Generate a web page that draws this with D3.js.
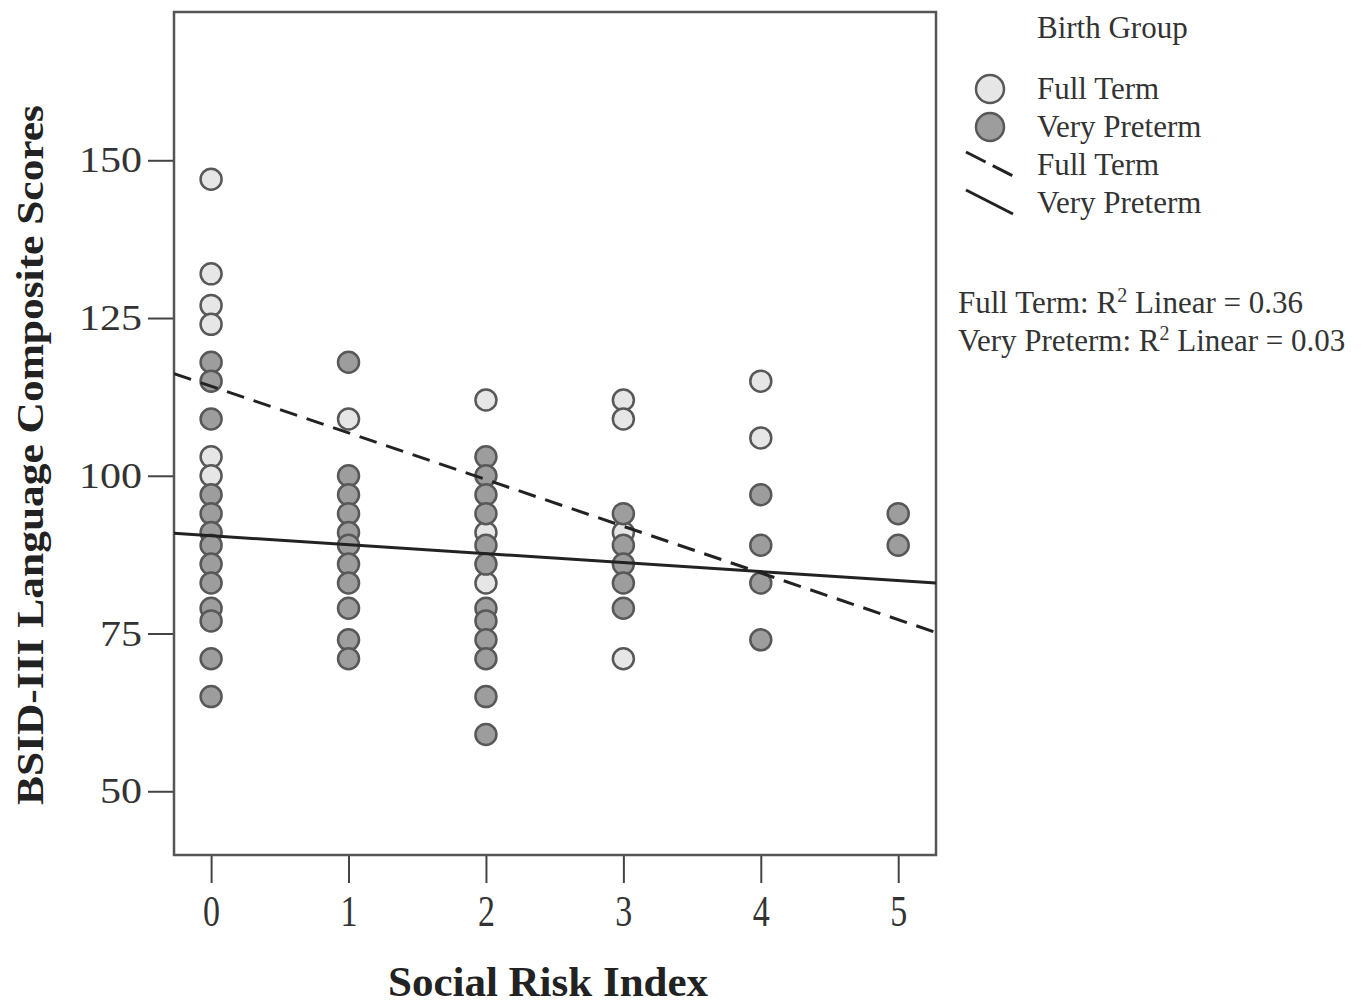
<!DOCTYPE html>
<html>
<head>
<meta charset="utf-8">
<script src="https://cdn.jsdelivr.net/npm/d3@7"></script>
<style>
  html, body { margin: 0; padding: 0; background: #ffffff; overflow: hidden; }
  svg { display: block; }
</style>
</head>
<body>
<script>
// ---------- DATA ----------
const xTickValues = [0, 1, 2, 3, 4, 5];
const yTickValues = [50, 75, 100, 125, 150];

const fullTermRisk  = [0, 0, 0, 0, 0, 0, 1, 2, 2, 2, 3, 3, 3, 3, 4, 4];
const fullTermScore = [147, 132, 127, 124, 103, 100, 109, 112, 91, 83, 112, 109, 91, 71, 115, 106];

const pretermRisk  = [0,0,0,0,0,0,0,0,0,0,0,0,0,
                      1,1,1,1,1,1,1,1,1,1,1,
                      2,2,2,2,2,2,2,2,2,2,2,2,
                      3,3,3,3,3,
                      4,4,4,4,
                      5,5];
const pretermScore = [118,115,109,97,94,91,89,86,83,79,77,71,65,
                      118,100,97,94,91,89,86,83,79,74,71,
                      103,100,97,94,89,86,79,77,74,71,65,59,
                      94,89,86,83,79,
                      97,89,83,74,
                      94,89];

// fitted lines: [intercept, slope]
const fullTermFit = [114.2, -7.4];
const pretermFit  = [90.5, -1.42];

const legendGroups = ["Full Term", "Very Preterm"];
const r2Labels = ["Full Term: ", "Very Preterm: "];
const r2Values = ["0.36", "0.03"];

// ---------- LAYOUT ----------
const W = 1366, H = 1007;
const plot = { left: 174, right: 936, top: 12, bottom: 855 };
const FONT = "'Liberation Serif', 'Times New Roman', serif";
const lightFill = "#e6e6e6", darkFill = "#9d9d9d", ptStroke = "#585858";

const svg = d3.select("body").append("svg")
  .attr("width", W).attr("height", H)
  .style("font-family", FONT);

const x = d3.scaleLinear().domain([-0.27, 5.275]).range([plot.left, plot.right]);
const y = d3.scaleLinear().domain([39.9, 173.5]).range([plot.bottom, plot.top]);

// clip
svg.append("defs").append("clipPath").attr("id", "clip")
  .append("rect").attr("x", plot.left).attr("y", plot.top)
  .attr("width", plot.right - plot.left).attr("height", plot.bottom - plot.top);

// Y axis
const yAxis = svg.append("g")
  .attr("transform", `translate(${plot.left},0)`)
  .call(d3.axisLeft(y).tickValues(yTickValues).tickSize(26).tickPadding(6).tickFormat(d3.format("d")));
yAxis.select(".domain").remove();
yAxis.selectAll(".tick line").attr("stroke", "#444").attr("stroke-width", 2);
yAxis.selectAll(".tick text")
  .attr("font-family", FONT).attr("font-size", 36).attr("fill", "#333")
  .attr("textLength", d => String(d).length * 21)
  .attr("lengthAdjust", "spacingAndGlyphs");

// X axis
const xAxis = svg.append("g")
  .attr("transform", `translate(0,${plot.bottom})`)
  .call(d3.axisBottom(x).tickValues(xTickValues).tickSize(28).tickPadding(12).tickFormat(d3.format("d")));
xAxis.select(".domain").remove();
xAxis.selectAll(".tick line").attr("stroke", "#444").attr("stroke-width", 2);
xAxis.selectAll(".tick text")
  .attr("font-family", FONT).attr("font-size", 44).attr("fill", "#333")
  .attr("textLength", 17)
  .attr("lengthAdjust", "spacingAndGlyphs");

// frame
svg.append("rect")
  .attr("x", plot.left).attr("y", plot.top)
  .attr("width", plot.right - plot.left).attr("height", plot.bottom - plot.top)
  .attr("fill", "none").attr("stroke", "#555").attr("stroke-width", 2.5);

// points
const gPts = svg.append("g").attr("clip-path", "url(#clip)");
gPts.selectAll("circle.ft")
  .data(fullTermScore.map((v, i) => [fullTermRisk[i], v]))
  .join("circle").attr("class", "ft")
  .attr("cx", d => x(d[0])).attr("cy", d => y(d[1])).attr("r", 10.5)
  .attr("fill", lightFill).attr("stroke", ptStroke).attr("stroke-width", 2.5);
gPts.selectAll("circle.vp")
  .data(pretermScore.map((v, i) => [pretermRisk[i], v]))
  .join("circle").attr("class", "vp")
  .attr("cx", d => x(d[0])).attr("cy", d => y(d[1])).attr("r", 10.5)
  .attr("fill", darkFill).attr("stroke", ptStroke).attr("stroke-width", 2.5);

// fit lines
const xd = x.domain();
const line = d3.line().x(d => x(d[0])).y(d => y(d[1]));
function fitPts(f) { return xd.map(v => [v, f[0] + f[1] * v]); }
gPts.append("path").datum(fitPts(fullTermFit)).attr("d", line)
  .attr("fill", "none").attr("stroke", "#222").attr("stroke-width", 3)
  .attr("stroke-dasharray", "18,10");
gPts.append("path").datum(fitPts(pretermFit)).attr("d", line)
  .attr("fill", "none").attr("stroke", "#222").attr("stroke-width", 3);

// axis titles
svg.append("text")
  .attr("transform", `translate(43,455) rotate(-90)`)
  .attr("text-anchor", "middle")
  .attr("font-weight", "bold").attr("font-size", 38).attr("fill", "#222")
  .attr("textLength", 700).attr("lengthAdjust", "spacingAndGlyphs")
  .text("BSID-III Language Composite Scores");

svg.append("text")
  .attr("x", 548).attr("y", 996)
  .attr("text-anchor", "middle")
  .attr("font-weight", "bold").attr("font-size", 42).attr("fill", "#222")
  .attr("textLength", 320).attr("lengthAdjust", "spacingAndGlyphs")
  .text("Social Risk Index");

// legend
const lg = svg.append("g").attr("fill", "#333").attr("font-size", 31);
lg.append("text").attr("x", 1037).attr("y", 38).text("Birth Group");
const legRows = [89, 127, 165, 203];
lg.append("circle").attr("cx", 990).attr("cy", legRows[0]).attr("r", 14)
  .attr("fill", lightFill).attr("stroke", ptStroke).attr("stroke-width", 2.5);
lg.append("circle").attr("cx", 990).attr("cy", legRows[1]).attr("r", 14)
  .attr("fill", darkFill).attr("stroke", ptStroke).attr("stroke-width", 2.5);
lg.append("line").attr("x1", 966).attr("y1", legRows[2] - 13).attr("x2", 1013).attr("y2", legRows[2] + 11)
  .attr("stroke", "#222").attr("stroke-width", 3).attr("stroke-dasharray", "22,8");
lg.append("line").attr("x1", 966).attr("y1", legRows[3] - 13).attr("x2", 1013).attr("y2", legRows[3] + 11)
  .attr("stroke", "#222").attr("stroke-width", 3);
const legLabels = [legendGroups[0], legendGroups[1], legendGroups[0], legendGroups[1]];
lg.selectAll("text.item").data(legLabels).join("text").attr("class", "item")
  .attr("x", 1037).attr("y", (d, i) => legRows[i] + 10).text(d => d);

// R2 annotations
const r2g = svg.append("g").attr("fill", "#333").attr("font-size", 31);
r2Labels.forEach((lab, i) => {
  const t = r2g.append("text").attr("x", 958).attr("y", 313 + i * 38);
  t.append("tspan").text(lab + "R");
  t.append("tspan").attr("dy", -11).attr("font-size", 20).text("2");
  t.append("tspan").attr("dy", 11).text(" Linear = " + r2Values[i]);
});
</script>
</body>
</html>
